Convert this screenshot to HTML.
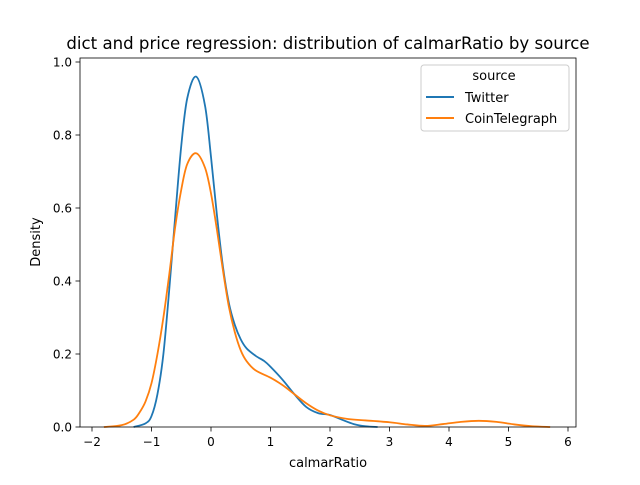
<!DOCTYPE html>
<html><head><meta charset="utf-8"><style>
body{margin:0;background:#fff;font-family:"Liberation Sans","DejaVu Sans",sans-serif}
text{font-family:"DejaVu Sans","Liberation Sans",sans-serif}
</style></head><body>
<svg id="chart" width="640" height="480" viewBox="0 0 640 480" xmlns="http://www.w3.org/2000/svg">
<rect width="640" height="480" fill="#fff"/>
<text x="328" y="49" font-size="16.6" text-anchor="middle">dict and price regression: distribution of calmarRatio by source</text>
<g id="plot"></g>
<rect x="80" y="58" width="496" height="369" fill="none" stroke="#000" stroke-width="0.8"/>
<text x="328" y="467" font-size="13" text-anchor="middle">calmarRatio</text>
<text x="40" y="242" font-size="13" text-anchor="middle" transform="rotate(-90 40 242)">Density</text>
<g>
<rect x="421" y="65" width="148" height="66" rx="3" fill="#fff" fill-opacity="0.8" stroke="#ccc"/>
<text x="494" y="80" font-size="13" text-anchor="middle">source</text>
<line x1="426" y1="97" x2="454" y2="97" stroke="#1f77b4" stroke-width="2"/>
<text x="465" y="102" font-size="13">Twitter</text>
<line x1="426" y1="118" x2="454" y2="118" stroke="#ff7f0e" stroke-width="2"/>
<text x="465" y="123" font-size="13">CoinTelegraph</text>
</g>
</svg>
<script>
const xTicks=[-2,-1,0,1,2,3,4,5,6];
const yTicks=[0.0,0.2,0.4,0.6,0.8,1.0];
const twitterX=[-1.3,-1.1,-1.0,-0.9,-0.8,-0.7,-0.6,-0.5,-0.4,-0.25,-0.1,0,0.1,0.2,0.3,0.4,0.5,0.6,0.75,0.9,1.0,1.2,1.4,1.6,1.8,2.0,2.2,2.4,2.6,2.8];
const twitterY=[0,0.01,0.03,0.09,0.2,0.38,0.58,0.77,0.9,0.96,0.88,0.74,0.58,0.44,0.34,0.28,0.24,0.215,0.195,0.18,0.165,0.13,0.09,0.055,0.038,0.033,0.02,0.008,0.002,0];
const coinX=[-1.8,-1.5,-1.3,-1.2,-1.1,-1.0,-0.9,-0.8,-0.7,-0.6,-0.5,-0.4,-0.25,-0.1,0,0.1,0.2,0.3,0.4,0.5,0.6,0.75,1.0,1.2,1.4,1.6,1.8,2.0,2.3,2.6,3.0,3.3,3.6,3.9,4.2,4.5,4.8,5.1,5.4,5.7];
const coinY=[0,0.005,0.02,0.04,0.07,0.12,0.2,0.3,0.42,0.55,0.65,0.72,0.75,0.71,0.64,0.54,0.43,0.33,0.26,0.21,0.18,0.155,0.135,0.115,0.09,0.065,0.045,0.032,0.022,0.018,0.013,0.007,0.003,0.008,0.014,0.017,0.014,0.007,0.002,0];

const NS="http://www.w3.org/2000/svg";
const xS=v=>211+59.5*v;
const yS=v=>427-365*v;
const g=document.getElementById('plot');
function mk(t,a){const e=document.createElementNS(NS,t);for(const k in a)e.setAttribute(k,a[k]);return e;}
xTicks.forEach(t=>{
  const l=mk('line',{x1:xS(t),x2:xS(t),y1:427,y2:431.5,stroke:'#000','stroke-width':0.8});
  
  
  g.appendChild(l);
  const tx=mk('text',{x:xS(t),y:446,'font-size':12,'text-anchor':'middle'});
  tx.textContent=(t<0?'\u2212'+(-t):t);
  
  
  g.appendChild(tx);
});
yTicks.forEach(t=>{
  const l=mk('line',{x1:75.5,x2:80,y1:yS(t),y2:yS(t),stroke:'#000','stroke-width':0.8});
  
  
  g.appendChild(l);
  const tx=mk('text',{x:72,y:yS(t)+4.5,'font-size':12,'text-anchor':'end'});
  tx.textContent=t.toFixed(1);
  
  
  g.appendChild(tx);
});
function smooth(xs,ys){
  const p=xs.map((x,i)=>[xS(x),yS(ys[i])]);
  let d='M'+p[0][0]+','+p[0][1];
  for(let i=0;i<p.length-1;i++){
    const p0=p[i-1]||p[i],p1=p[i],p2=p[i+1],p3=p[i+2]||p2;
    const c1=[p1[0]+(p2[0]-p0[0])/6,p1[1]+(p2[1]-p0[1])/6];
    const c2=[p2[0]-(p3[0]-p1[0])/6,p2[1]-(p3[1]-p1[1])/6];
    d+=` C${c1[0]},${c1[1]} ${c2[0]},${c2[1]} ${p2[0]},${p2[1]}`;
  }
  return d;
}
const tw=mk('path',{d:smooth(twitterX,twitterY),fill:'none',stroke:'#1f77b4','stroke-width':1.8});


g.appendChild(tw);
const ct=mk('path',{d:smooth(coinX,coinY),fill:'none',stroke:'#ff7f0e','stroke-width':1.8});


g.appendChild(ct);
</script>
</body></html>
